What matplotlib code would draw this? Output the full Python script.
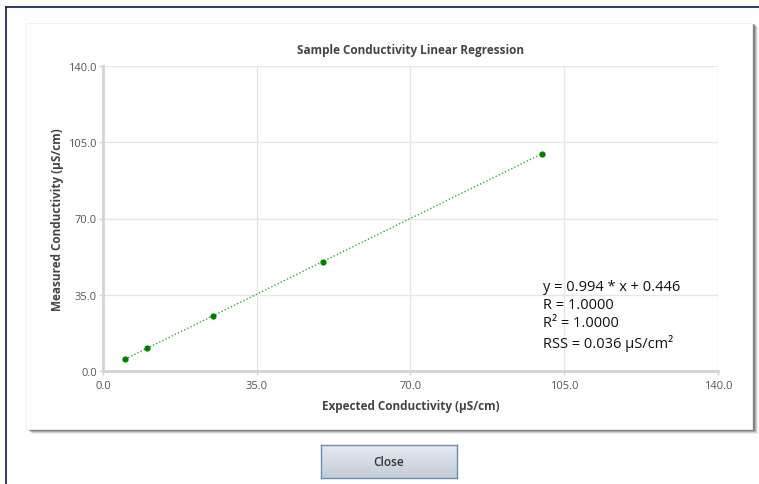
import numpy as np
import matplotlib
matplotlib.use('Agg')
import matplotlib.pyplot as plt
from matplotlib.patches import Rectangle
from matplotlib.lines import Line2D

plt.rcParams['font.family'] = ['Open Sans', 'DejaVu Sans']

# data
expected = [5.0, 10.0, 25.0, 50.0, 100.0]
measured = [5.4, 10.4, 25.3, 50.2, 99.8]
ticks = [0.0, 35.0, 70.0, 105.0, 140.0]
stats = ["y = 0.994 * x + 0.446", "R = 1.0000", "R² = 1.0000", "RSS = 0.036 µS/cm²"]

W, H = 759, 485
fig = plt.figure(figsize=(W / 100, H / 100), dpi=100)
fig.patch.set_facecolor('white')


def fx(px):
    return px / W


def fy(py):
    return 1 - py / H


# outer window border (navy)
fig.add_artist(Line2D([fx(6), 1], [fy(8), fy(8)], color='#1c2a5c', lw=1.3, zorder=-5))
fig.add_artist(Line2D([fx(6), fx(6)], [fy(8), 0], color='#1c2a5c', lw=1.3, zorder=-5))

# dialog panel with shadow
for k, a in enumerate([0.10, 0.18, 0.30, 0.45]):
    off = 4 - k
    fig.add_artist(Rectangle((fx(28 + off), fy(431 + off)), fx(726), fy(24) - fy(431),
                             facecolor='#555555', alpha=a, edgecolor='none', zorder=-4))
fig.add_artist(Rectangle((fx(26), fy(430)), fx(726), fy(24) - fy(430),
                         facecolor='white', edgecolor='#f0f0f0', lw=0.6, zorder=-3))

# chart
ax = fig.add_axes([fx(103), fy(372), fx(718) - fx(103), fy(67) - fy(372)])
ax.set_zorder(2)
ax.set_facecolor('white')
ax.set_xlim(0, 140)
ax.set_ylim(0, 140)
ax.set_xticks(ticks)
ax.set_yticks(ticks)
ax.set_xticklabels([f"{t:.1f}" for t in ticks])
ax.set_yticklabels([f"{t:.1f}" for t in ticks])
ax.grid(True, color='#e6e6e6', lw=1.0)
ax.set_axisbelow(True)
for s in ['top', 'right']:
    ax.spines[s].set_visible(False)
for s in ['left', 'bottom']:
    ax.spines[s].set_color('#d4d4d4')
    ax.spines[s].set_linewidth(2.0)
ax.tick_params(colors='#d4d4d4', labelcolor='#555555', labelsize=8, length=3, width=1)
ax.tick_params(axis='y', pad=1.5)

ax.plot(expected, measured, linestyle=(0, (1, 1.5)), color='#3aa33a', lw=1.0)
ax.plot(expected, measured, 'o', color='#008000', ms=4.5, markeredgewidth=0)

ax.set_title("Sample Conductivity Linear Regression", fontsize=8.5, fontweight='bold',
             color='#444444', pad=9)
ax.set_xlabel("Expected Conductivity (µS/cm)", fontsize=8.5, fontweight='bold',
              color='#444444', labelpad=6)
ax.set_ylabel("Measured Conductivity (µS/cm)", fontsize=8.5, fontweight='bold',
              color='#444444', labelpad=3)

ax.text(0.716, 0.302, "\n".join(stats), transform=ax.transAxes, fontsize=10.5,
        color='#111111', va='top', ha='left', linespacing=1.3)

# close button with vertical gradient
bax = fig.add_axes([fx(321), fy(479), fx(136), fy(446) - fy(479)])
grad = np.linspace(0, 1, 64).reshape(-1, 1)
bax.imshow(grad, aspect='auto', cmap=matplotlib.colors.LinearSegmentedColormap.from_list(
    'btn', ['#e6ebf1', '#c4ccd6']), extent=[0, 1, 0, 1], origin='upper')
bax.set_xticks([])
bax.set_yticks([])
for s in bax.spines.values():
    s.set_color('#6b8db0')
    s.set_linewidth(1.0)
bax.text(0.5, 0.5, "Close", fontsize=8.5, fontweight='semibold', color='#333333',
         ha='center', va='center', transform=bax.transAxes)

fig.savefig('out.png', dpi=100)
